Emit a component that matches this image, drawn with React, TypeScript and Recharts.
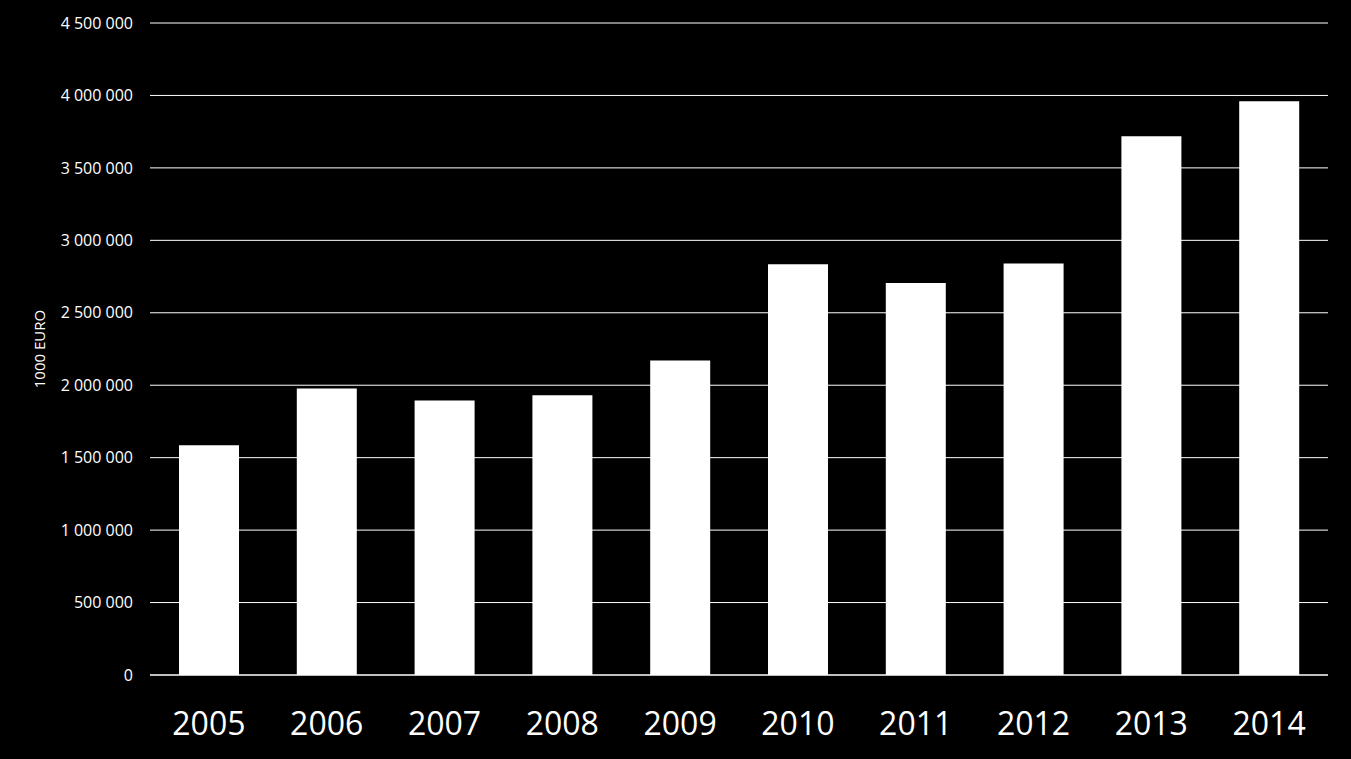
import { BarChart, Bar, XAxis, YAxis, CartesianGrid, Label } from "recharts"

const years = ["2005", "2006", "2007", "2008", "2009", "2010", "2011", "2012", "2013", "2014"]
const amounts = [1585000, 1978000, 1895000, 1930000, 2171000, 2835000, 2705000, 2840000, 3718000, 3960000]
const yTicks = [0, 500000, 1000000, 1500000, 2000000, 2500000, 3000000, 3500000, 4000000, 4500000]

const chartData = years.map((year, i) => ({ year, value: amounts[i] }))

const formatNumber = (v: number) =>
  String(v).replace(/\B(?=(\d{3})+(?!\d))/g, " ")

export default function App() {
  return (
    <div
      style={{
        position: "fixed",
        left: 0,
        top: 0,
        width: 1351,
        height: 759,
        background: "#000",
        fontFamily: "'Open Sans', sans-serif",
      }}
    >
      <BarChart
        width={1351}
        height={759}
        data={chartData}
        margin={{ top: 23, right: 23, bottom: 0, left: 0 }}
      >
        <CartesianGrid vertical={false} stroke="#fff" strokeWidth={1} />
        <XAxis
          dataKey="year"
          height={84}
          tickLine={false}
          tickSize={0}
          tickMargin={37}
          axisLine={{ stroke: "#fff", strokeWidth: 1 }}
          tick={{ fill: "#fff", fontSize: 32 }}
          interval={0}
        />
        <YAxis
          width={150}
          domain={[0, 4500000]}
          ticks={yTicks}
          interval={0}
          tickLine={false}
          axisLine={false}
          tickSize={0}
          tickMargin={17}
          tickFormatter={formatNumber}
          tick={{ fill: "#fff", fontSize: 16 }}
        >
          <Label
            value="1000 EURO"
            angle={-90}
            position="insideLeft"
            offset={40}
            style={{ fill: "#fff", fontSize: 15, textAnchor: "middle" }}
          />
        </YAxis>
        <Bar dataKey="value" fill="#fff" barSize={60} isAnimationActive={false} />
      </BarChart>
    </div>
  )
}
